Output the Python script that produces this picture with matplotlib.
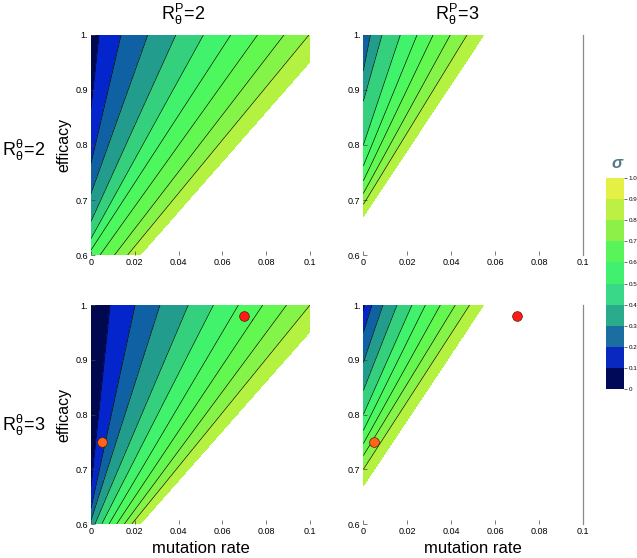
import numpy as np
import matplotlib.pyplot as plt
from matplotlib.colors import ListedColormap, BoundaryNorm
from matplotlib.cm import ScalarMappable

plt.rcParams['font.family'] = ['Liberation Sans', 'DejaVu Sans']
plt.rcParams['mathtext.fontset'] = 'custom'
plt.rcParams['mathtext.rm'] = 'Liberation Sans'
plt.rcParams['mathtext.it'] = 'Liberation Sans:italic'

# contour levels of sigma; the 1.0 line is the edge of the shaded region
levels = np.round(np.arange(0.1, 1.01, 0.1), 1)

# each contour line: mutation rate where it meets efficacy = 1,
# and the point where it leaves the panel lower down (left or bottom edge)
nan = np.nan
tl_top_mu = [0.00365, 0.0137, 0.0259, 0.0387, 0.0513, 0.0638, 0.0760, 0.0881, 0.0995, 0.1107]
tl_low_mu = [0, 0, 0, 0, 0, 0, 0.0041, 0.0107, 0.0167, 0.0224]
tl_low_eps = [0.867, 0.767, 0.712, 0.661, 0.630, 0.609, 0.6, 0.6, 0.6, 0.6]

tr_top_mu = [nan, nan, 0.00318, 0.00848, 0.0168, 0.0244, 0.0317, 0.0395, 0.0471, 0.0547]
tr_low_mu = [nan, nan, 0, 0, 0, 0, 0, 0, 0, 0]
tr_low_eps = [nan, nan, 0.935, 0.88, 0.80, 0.762, 0.735, 0.712, 0.692, 0.670]

bl_top_mu = [0.00868, 0.0201, 0.0315, 0.0444, 0.0559, 0.0673, 0.0784, 0.0893, 0.1000, 0.1107]
bl_low_mu = [0, 0, 0, 0.0018, 0.0049, 0.0082, 0.0117, 0.0152, 0.0186, 0.0224]
bl_low_eps = [0.668, 0.629, 0.607, 0.6, 0.6, 0.6, 0.6, 0.6, 0.6, 0.6]

br_top_mu = [0.00045, 0.0039, 0.0089, 0.0153, 0.0221, 0.0282, 0.035, 0.0418, 0.0483, 0.0547]
br_low_mu = [0, 0, 0, 0, 0, 0, 0, 0, 0, 0]
br_low_eps = [0.989, 0.95, 0.895, 0.844, 0.80, 0.771, 0.747, 0.725, 0.70, 0.670]

# highlighted points (bottom row)
point_mu = [0.005, 0.07]
point_eps = [0.75, 0.98]
point_colors = ['#ff6418', '#ff1a1a']

panel_colors = ['#00084f', '#0424cc', '#1060a4', '#229c8c', '#34d07e',
                '#40f26c', '#4cf85e', '#62f850', '#84f448', '#b4f242']
cbar_colors = ['#000858', '#0828c0', '#1a6ea0', '#2aac8c', '#38d888',
               '#42f070', '#58f45a', '#8cf048', '#bcf044', '#e4f046']
bounds = np.round(np.arange(0, 1.01, 0.1), 1)

col_titles = [r'$\mathregular{R^{P}_{θ}\!=\!2}$', r'$\mathregular{R^{P}_{θ}\!=\!3}$']
row_titles = [r'$\mathregular{R^{θ}_{θ}\!=\!2}$', r'$\mathregular{R^{θ}_{θ}\!=\!3}$']


def sigma_field(mu, eps, top_mu, low_mu, low_eps):
    top_mu, low_mu, low_eps = map(np.asarray, (top_mu, low_mu, low_eps))
    keep = ~np.isnan(top_mu)
    lev = levels[keep]
    pos = np.array([t + (l - t) * (1 - eps) / (1 - e)
                    for t, l, e in zip(top_mu[keep], low_mu[keep], low_eps[keep])])
    pos = np.maximum.accumulate(pos, axis=0)
    n = len(lev)
    c = (mu[None] >= pos).sum(axis=0)
    i_lo = np.clip(c - 1, 0, n - 1)
    i_hi = np.clip(c, 0, n - 1)
    lo = np.take_along_axis(pos, i_lo[None], 0)[0]
    hi = np.take_along_axis(pos, i_hi[None], 0)[0]
    gap = np.where(hi > lo, hi - lo, 1.0)
    z = lev[i_lo] + 0.1 * (mu - lo) / gap
    z = np.where(c == 0, lev[0] - 0.09 * np.clip((pos[0] - mu) / 0.004, 0, 1), z)
    z = np.where(c >= n, 1.0 + (mu - pos[-1]) * 10, z)
    return z


mu_grid = np.linspace(0, 0.1, 700)
eps_grid = np.linspace(0.6, 1.0, 700)
MU, EPS = np.meshgrid(mu_grid, eps_grid)

fig = plt.figure(figsize=(6.37, 5.58), dpi=100)
rects = [[0.1429, 0.5430, 0.3438, 0.3943], [0.5704, 0.5430, 0.3454, 0.3943],
         [0.1429, 0.0609, 0.3438, 0.3925], [0.5704, 0.0609, 0.3454, 0.3925]]
panels = [(tl_top_mu, tl_low_mu, tl_low_eps), (tr_top_mu, tr_low_mu, tr_low_eps),
          (bl_top_mu, bl_low_mu, bl_low_eps), (br_top_mu, br_low_mu, br_low_eps)]

for k, (rect, lines) in enumerate(zip(rects, panels)):
    ax = fig.add_axes(rect)
    Z = sigma_field(MU, EPS, *lines)
    ax.contourf(MU, EPS, Z, levels=bounds, colors=panel_colors)
    ax.contour(MU, EPS, Z, levels=bounds[1:-1], colors='k', linewidths=0.45)
    ax.set_xlim(0, 0.1)
    ax.set_ylim(0.6, 1.0)
    for s in ax.spines.values():
        s.set_visible(False)
    ax.set_xticks([0, 0.02, 0.04, 0.06, 0.08, 0.1])
    ax.set_xticklabels(['0', '0.02', '0.04', '0.06', '0.08', '0.1'])
    ax.set_yticks([0.6, 0.7, 0.8, 0.9, 1.0])
    ax.set_yticklabels(['0.6', '0.7', '0.8', '0.9', '1.'])
    ax.tick_params(direction='in', length=3, width=0.5, color='#444444',
                   labelsize=6.5, pad=2)
    if k % 2 == 1:
        ax.axvline(0.1, color='#8a8a8a', lw=0.9, clip_on=False)
    else:
        ax.text(-0.123, 0.5, 'efficacy', transform=ax.transAxes, rotation=90,
                ha='center', va='center', fontsize=11.5)
    if k >= 2:
        ax.text(0.5, -0.11, 'mutation rate', transform=ax.transAxes,
                ha='center', va='center', fontsize=12)
        for m, e, c in zip(point_mu, point_eps, point_colors):
            ax.plot(m, e, 'o', ms=7, mfc=c, mec='#5a1a00', mew=0.5, zorder=5,
                    clip_on=False)

fig.text(183 / 637, 1 - 14 / 558, col_titles[0], ha='center', va='center', fontsize=13)
fig.text(457 / 637, 1 - 14 / 558, col_titles[1], ha='center', va='center', fontsize=13)
fig.text(2 / 637, 1 - 150 / 558, row_titles[0], ha='left', va='center', fontsize=13)
fig.text(2 / 637, 1 - 425 / 558, row_titles[1], ha='left', va='center', fontsize=13)

cax = fig.add_axes([0.9509, 0.3029, 0.0287, 0.378])
sm = ScalarMappable(norm=BoundaryNorm(bounds, 10), cmap=ListedColormap(cbar_colors))
cb = fig.colorbar(sm, cax=cax, ticks=bounds)
cb.ax.set_yticklabels(['0'] + ['%.1f' % b for b in bounds[1:]])
cb.ax.tick_params(labelsize=4.5, length=2, width=0.4, pad=1.5)
cb.outline.set_visible(False)
fig.text(617 / 637, 1 - 163 / 558, 'σ', ha='center', va='center', fontsize=12,
         style='italic', fontweight='bold', color='#557888')

fig.savefig('out.png', dpi=100)
